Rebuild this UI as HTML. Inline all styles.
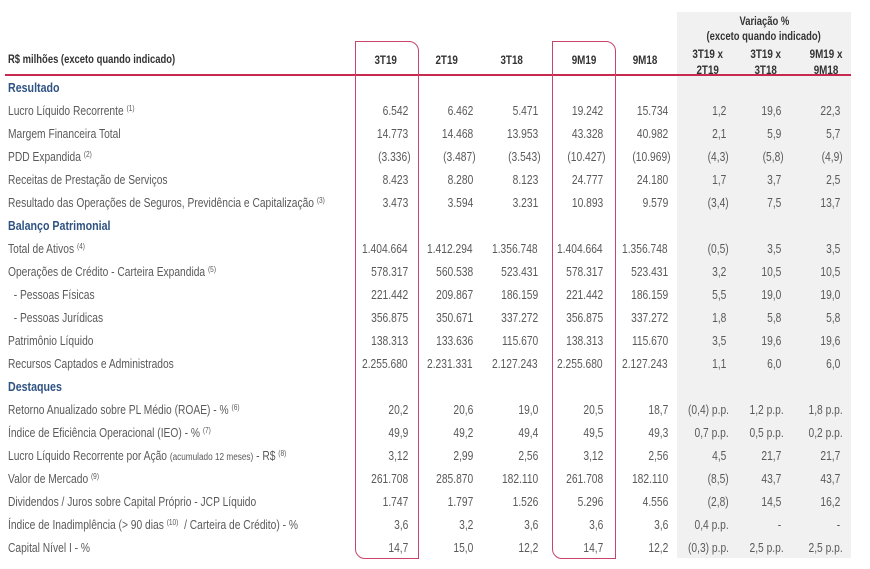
<!DOCTYPE html>
<html><head><meta charset="utf-8">
<style>
body{margin:0;width:870px;height:569px;background:#fff;position:relative;overflow:hidden;font-family:"Liberation Sans",sans-serif;color:#5a5a5a;font-size:12.5px}
.a{position:absolute;white-space:nowrap;line-height:14px}
.a>span{display:inline-block;transform:scaleX(.82);transform-origin:left center}
.r>span{transform-origin:right center}
.c>span{transform-origin:center center}
sup{font-size:8px;vertical-align:4px;line-height:0}
.sec{color:#2f5383;font-weight:bold;font-size:13px}
.hd{font-weight:bold;color:#333;font-size:12px}
.box{position:absolute;border:1.5px solid #c8446a;box-sizing:border-box;border-radius:0 10px 0 10px}
</style></head><body>
<div style="left:677px;top:12px;width:174px;height:546px;background:#f1f1f1;position:absolute"></div>
<div style="position:absolute;left:5px;top:74px;width:846px;height:2px;background:#c8294f"></div>
<div class="box" style="left:355px;top:41px;width:64px;height:518px"></div>
<div class="box" style="left:552px;top:41px;width:64px;height:518px"></div>
<div id="t"></div>
<script>
const cols=["3T19","2T19","3T18","9M19","9M18"];
const colCenters=[386,447,512,584,645];
const colRight=[408,473,538,603,668,726,781,840];
const rows=[
["s","Resultado"],
["Lucro Líquido Recorrente","1","6.542","6.462","5.471","19.242","15.734","1,2","19,6","22,3"],
["Margem Financeira Total","","14.773","14.468","13.953","43.328","40.982","2,1","5,9","5,7"],
["PDD Expandida","2","(3.336)","(3.487)","(3.543)","(10.427)","(10.969)","(4,3)","(5,8)","(4,9)"],
["Receitas de Prestação de Serviços","","8.423","8.280","8.123","24.777","24.180","1,7","3,7","2,5"],
["Resultado das Operações de Seguros, Previdência e Capitalização","3","3.473","3.594","3.231","10.893","9.579","(3,4)","7,5","13,7"],
["s","Balanço Patrimonial"],
["Total de Ativos","4","1.404.664","1.412.294","1.356.748","1.404.664","1.356.748","(0,5)","3,5","3,5"],
["Operações de Crédito - Carteira Expandida","5","578.317","560.538","523.431","578.317","523.431","3,2","10,5","10,5"],
["  - Pessoas Físicas","","221.442","209.867","186.159","221.442","186.159","5,5","19,0","19,0"],
["  - Pessoas Jurídicas","","356.875","350.671","337.272","356.875","337.272","1,8","5,8","5,8"],
["Patrimônio Líquido","","138.313","133.636","115.670","138.313","115.670","3,5","19,6","19,6"],
["Recursos Captados e Administrados","","2.255.680","2.231.331","2.127.243","2.255.680","2.127.243","1,1","6,0","6,0"],
["s","Destaques"],
["Retorno Anualizado sobre PL Médio (ROAE) - %","6","20,2","20,6","19,0","20,5","18,7","(0,4) p.p.","1,2 p.p.","1,8 p.p."],
["Índice de Eficiência Operacional (IEO) - %","7","49,9","49,2","49,4","49,5","49,3","0,7 p.p.","0,5 p.p.","0,2 p.p."],
["Lucro Líquido Recorrente por Ação|(acumulado 12 meses)|- R$","8","3,12","2,99","2,56","3,12","2,56","4,5","21,7","21,7"],
["Valor de Mercado","9","261.708","285.870","182.110","261.708","182.110","(8,5)","43,7","43,7"],
["Dividendos / Juros sobre Capital Próprio - JCP Líquido","","1.747","1.797","1.526","5.296","4.556","(2,8)","14,5","16,2"],
["Índice de Inadimplência (> 90 dias","10","3,6","3,2","3,6","3,6","3,6","0,4 p.p.","-","-"],
["Capital Nível I - %","","14,7","15,0","12,2","14,7","12,2","(0,3) p.p.","2,5 p.p.","2,5 p.p."]
];
const T=document.getElementById('t');
function add(html,cls,style,name){const d=document.createElement('div');d.className='a '+cls;d.innerHTML='<span>'+html+'</span>';d.style.cssText=style;


T.appendChild(d);return d;}
add('R$ milhões (exceto quando indicado)','hd','left:8px;top:53px;font-size:11.5px','units-label');
cols.forEach((c,i)=>add(c,'hd c',`left:${colCenters[i]-30}px;width:60px;text-align:center;top:53px`,'col-header-'+c.toLowerCase()));
add('Variação %','hd c','left:677px;width:174px;text-align:center;top:15px;font-size:11.5px','variation-title');
add('(exceto quando indicado)','hd c','left:677px;width:174px;text-align:center;top:30px;font-size:11.5px','variation-subtitle');
[["3T19 x","2T19",708],["3T19 x","3T18",766],["9M19 x","9M18",826]].forEach((v,i)=>add(v[0]+'<br>'+v[1],'hd c',`left:${v[2]-30}px;width:60px;text-align:center;top:46px;line-height:16px`,'variation-header-'+(i+1)));
rows.forEach((r,i)=>{
 const y=81+i*23;
 if(r[0]==='s'){add(r[1],'sec',`left:8px;top:${y}px`,'section-'+r[1].toLowerCase().replace(/ /g,'-'));return;}
 let lab=r[0];
 if(lab.includes('|')){const p=lab.split('|');lab=p[0]+' <span style="font-size:10px">'+p[1]+'</span> '+p[2];}
 lab=lab.replace(/^  /,'&nbsp;&nbsp;');
 if(r[1])lab+=' <sup>('+r[1]+')</sup>';
 if(r[0].startsWith('Índice de Inadimp'))lab+='&nbsp; / Carteira de Crédito) - %';
 add(lab,'',`left:8px;top:${y}px`,'row-label-'+i);
 for(let j=0;j<8;j++){const v=r[2+j];let rt=colRight[j];
  if(v.includes('(')||v.includes('p.p.'))rt+=3;
  add(v,'r',`left:${rt-80}px;width:80px;text-align:right;top:${y}px`,'cell-'+i+'-'+j);}
});
</script>
</body></html>
